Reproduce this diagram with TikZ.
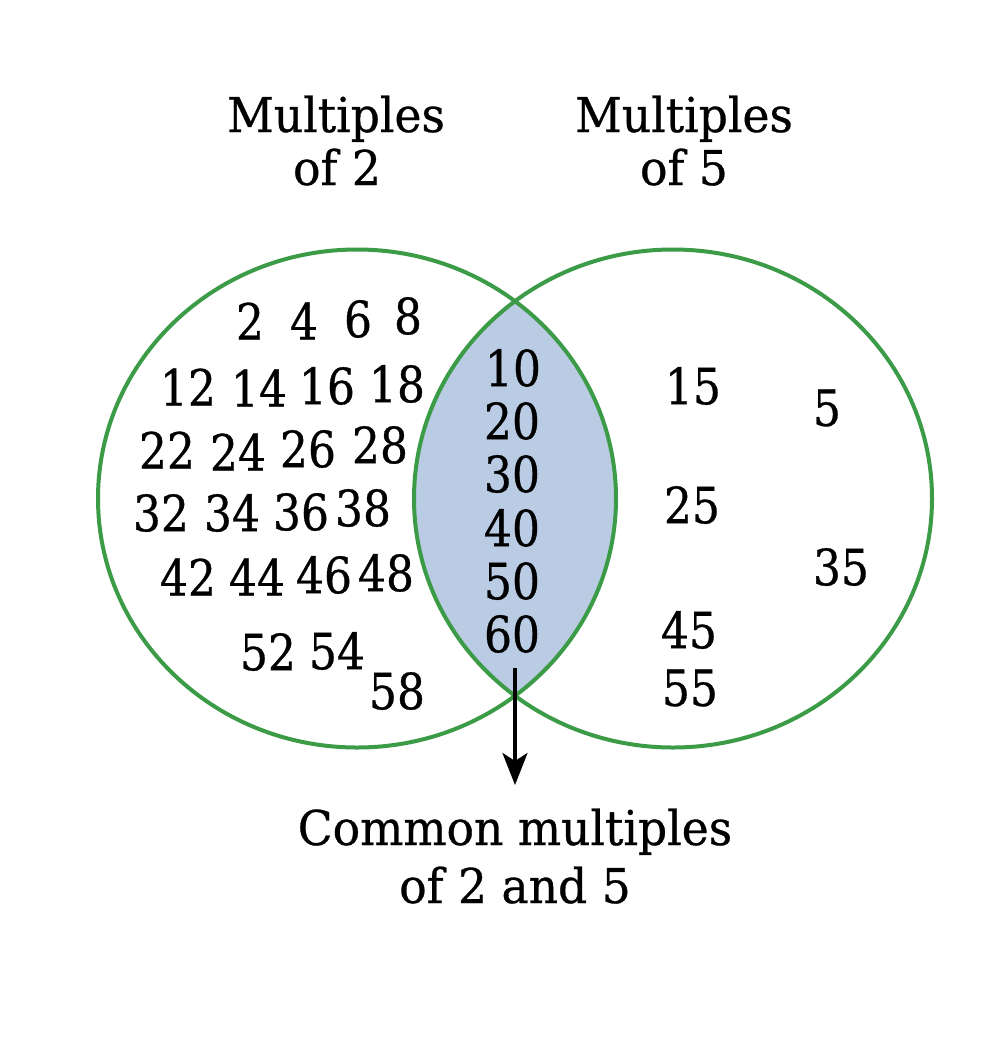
\documentclass[tikz,border=0pt]{standalone}
\usepackage{fontspec}
\setmainfont{DejaVu Serif}[FakeStretch=0.95,FakeBold=0.6]
\newfontfamily\numf{DejaVu Serif}[FakeStretch=0.88,FakeBold=0.6]
\usetikzlibrary{arrows.meta}
\definecolor{venngreen}{HTML}{3C9B47}
\definecolor{lensblue}{HTML}{BACBE4}
\begin{document}
\begin{tikzpicture}[x=1pt,y=1pt,
  num/.style={inner sep=0pt, font=\numf\fontsize{50}{50}\selectfont},
  lbl/.style={inner sep=0pt, anchor=base, font=\fontsize{48}{48}\selectfont},
  setline/.style={draw=venngreen, line width=4pt},
  pointer/.style={line width=3.6pt, -{Stealth[length=32pt,width=25pt,inset=8pt]}}]
\useasboundingbox (0,0) rectangle (1008,-1053);
\fill[white] (0,0) rectangle (1008,-1053);
% intersection (common multiples)
\begin{scope}
  \clip (357,-498.5) ellipse [x radius=259, y radius=249];
  \fill[lensblue] (673,-498.5) ellipse [x radius=259, y radius=249];
\end{scope}
% the two sets
\draw[setline] (357,-498.5) ellipse [x radius=259, y radius=249];
\draw[setline] (673,-498.5) ellipse [x radius=259, y radius=249];
% titles
\node[lbl] (t2a) at (336,-132) {Multiples};
\node[lbl] (t2b) at (337,-185) {of 2};
\node[lbl] (t5a) at (684,-132) {Multiples};
\node[lbl] (t5b) at (684,-185) {of 5};
% multiples of 2 only
\node[num] (n2) at (250,-321) {2};
\node[num] (n4) at (304,-321) {4};
\node[num] (n6) at (358,-319) {6};
\node[num] (n8) at (408,-316) {8};
\node[num] (n12) at (188,-387) {12};
\node[num] (n14) at (259,-388) {14};
\node[num] (n16) at (327,-386) {16};
\node[num] (n18) at (397,-384) {18};
\node[num] (n22) at (167,-450) {22};
\node[num] (n24) at (238,-452) {24};
\node[num] (n26) at (308,-449) {26};
\node[num] (n28) at (380,-445) {28};
\node[num] (n32) at (161,-513) {32};
\node[num] (n34) at (232,-513) {34};
\node[num] (n36) at (301,-512) {36};
\node[num] (n38) at (363,-508) {38};
\node[num] (n42) at (188,-577) {42};
\node[num] (n44) at (257,-577) {44};
\node[num] (n46) at (324,-575) {46};
\node[num] (n48) at (386,-573) {48};
\node[num] (n52) at (268,-652) {52};
\node[num] (n54) at (337,-651) {54};
\node[num] (n58) at (397,-691) {58};
% common multiples
\node[num] (n10) at (513,-368) {10};
\node[num] (n20) at (512,-421) {20};
\node[num] (n30) at (512,-474) {30};
\node[num] (n40) at (512,-528) {40};
\node[num] (n50) at (512,-581) {50};
\node[num] (n60) at (512,-634) {60};
% multiples of 5 only
\node[num] (n15) at (693,-386) {15};
\node[num] (n5) at (827,-408) {5};
\node[num] (n25) at (692,-505) {25};
\node[num] (n35) at (841,-567) {35};
\node[num] (n45) at (689,-630) {45};
\node[num] (n55) at (690,-688) {55};
% pointer to label
\coordinate (arrtop) at (515,-668);
\coordinate (arrtip) at (515,-785);
\draw[pointer] (arrtop) -- (arrtip);
\node[lbl] (c1) at (515,-845) {Common multiples};
\node[lbl] (c2) at (515,-903) {of 2 and 5};
\end{tikzpicture}
\end{document}
